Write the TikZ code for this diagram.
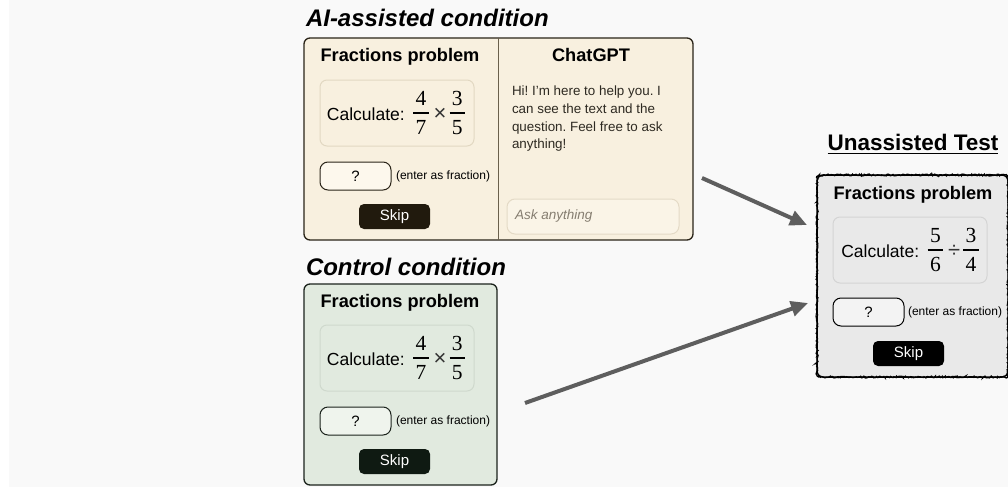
\documentclass[tikz,border=0pt]{standalone}
\usepackage{fontspec}
\setmainfont{Liberation Serif}
\setsansfont{Liberation Sans}
\newfontfamily\digfont{Liberation Serif}
\usetikzlibrary{arrows.meta,decorations.pathmorphing}
\definecolor{bg}{HTML}{F9F9F9}
\definecolor{aifill}{HTML}{F8F0DF}
\definecolor{aiborder}{HTML}{2A2418}
\definecolor{aidiv}{HTML}{6A604C}
\definecolor{aicalc}{HTML}{E2D8C2}
\definecolor{aiin}{HTML}{FDF8ED}
\definecolor{aiskip}{HTML}{211A0D}
\definecolor{askborder}{HTML}{E4DAC6}
\definecolor{askfill}{HTML}{FAF4E7}
\definecolor{asktext}{HTML}{857D70}
\definecolor{chattext}{HTML}{2E2A22}
\definecolor{cfill}{HTML}{E1EADF}
\definecolor{cborder}{HTML}{1B231C}
\definecolor{ccalc}{HTML}{CFD9CD}
\definecolor{cin}{HTML}{EFF4ED}
\definecolor{cskip}{HTML}{0F1A12}
\definecolor{tfill}{HTML}{E9E9E9}
\definecolor{tcalc}{HTML}{D4D4D4}
\definecolor{tin}{HTML}{F3F3F3}
\definecolor{arrowgray}{HTML}{5E5E5E}
\definecolor{optext}{HTML}{333333}
\newcommand\myfrac[2]{\raisebox{-14.45pt}{\vbox{\offinterlineskip\halign{\hfil##\hfil\cr
  \digfont\fontsize{21.5}{21.5}\selectfont #1\cr
  \noalign{\kern6.5pt}
  \vrule width 15.5pt height 1.7pt depth 0pt\cr
  \noalign{\kern6.5pt}
  \digfont\fontsize{21.5}{21.5}\selectfont\vrule width 0pt height 14.5pt depth 0pt#2\cr}}}}
\newcommand\mycalcline[5]{{\sffamily\fontsize{17.5}{20}\selectfont Calculate:}\hspace{8.5pt}\myfrac{#1}{#2}\hspace{5pt}{\sffamily\fontsize{22}{20}\selectfont\color{optext}#3}\hspace{3pt}\myfrac{#4}{#5}}
\begin{document}
\frenchspacing
\begin{tikzpicture}[x=1pt,y=-1pt,
  every node/.style={inner sep=0pt, outer sep=0pt, font=\sffamily},
  title/.style={font=\sffamily\bfseries\itshape\fontsize{24}{26}\selectfont, anchor=base west},
  head/.style={font=\sffamily\bfseries\fontsize{18.2}{20}\selectfont, anchor=base},
  panel/.style={line width=1.3pt, rounded corners=6pt, anchor=north west, minimum width=#1},
  calcbox/.style={line width=1pt, rounded corners=7pt, anchor=north west, minimum width=154pt, minimum height=66pt},
  inbox/.style={line width=1pt, rounded corners=8pt, anchor=north west, minimum width=71pt, minimum height=28pt, font=\sffamily\fontsize{15}{17}\selectfont},
  skipbtn/.style={rounded corners=5pt, anchor=north west, minimum width=71pt, minimum height=25pt, text=white, font=\sffamily\fontsize{15}{17}\selectfont},
  hint/.style={anchor=west, font=\sffamily\fontsize{12}{14}\selectfont},
  arrow/.style={draw=arrowgray, line width=4pt, -{Triangle[length=17pt,width=15pt]}},
  roughline/.style={line width=1.3pt, decorate, decoration={random steps, segment length=1.1pt, amplitude=0.9pt}}
]
\useasboundingbox (0,0) rectangle (1008,487);
\fill[bg] (9,0) rectangle (1008,487);

% ---------------- AI-assisted ----------------
\node[title] (tai) at (306,27) {AI-assisted condition};
\node[panel=389pt, draw=aiborder, fill=aifill, minimum height=202pt] (ai) at (304,38) {};
\draw[aidiv, line width=0.9pt] (ai.north) -- (ai.south);
\node[head] (aifp) at (400,62) {Fractions problem};
\node[head] (gpt) at (591,62) {ChatGPT};
\node[calcbox, draw=aicalc, fill=aifill] (aicb) at (320,80) {};
\node (aicalc) at ([xshift=-1pt]aicb.center) {\mycalcline{4}{7}{×}{3}{5}};
\node[inbox, draw=aiborder, fill=aiin] (aiin) at (320,162) {?};
\node[hint] (aihint) at ([xshift=5pt]aiin.east) {(enter as fraction)};
\node[skipbtn, fill=aiskip] (aiskip) at (359,204) {Skip};
\node[anchor=north west, align=left, text=chattext, font=\sffamily\fontsize{13.4}{17.7}\selectfont] (chat) at (512,86)
  {Hi! I'm here to help you. I\\can see the text and the\\question. Feel free to ask\\anything!};
\node[line width=1pt, rounded corners=8pt, anchor=north west, draw=askborder, fill=askfill, minimum width=172pt, minimum height=35pt] (ask) at (507,199) {};
\node[anchor=west, text=asktext, font=\sffamily\itshape\fontsize{13.5}{16}\selectfont] (asktxt) at ([xshift=8pt]ask.west) {Ask anything};

% ---------------- Control ----------------
\node[title] (tc) at (306,275) {Control condition};
\node[panel=193pt, draw=cborder, fill=cfill, minimum height=201pt] (ctrl) at (304,284) {};
\node[head] (cfp) at (400,307) {Fractions problem};
\node[calcbox, draw=ccalc, fill=cfill] (ccb) at (320,325) {};
\node (ccalc) at ([xshift=-1pt]ccb.center) {\mycalcline{4}{7}{×}{3}{5}};
\node[inbox, draw=cborder, fill=cin] (cin) at (320,407) {?};
\node[hint] (chint) at ([xshift=5pt]cin.east) {(enter as fraction)};
\node[skipbtn, fill=cskip] (cskip) at (359,449) {Skip};

% ---------------- Unassisted test ----------------
\node[font=\sffamily\bfseries\fontsize{22.5}{25}\selectfont, anchor=base] (ut) at (913,150) {Unassisted Test};
\draw[line width=1.5pt] ([yshift=-3.5pt]ut.base west) -- ([yshift=-3.5pt]ut.base east);
\pgfmathsetseed{7}
\node[anchor=north west, fill=tfill, draw=black, line width=1.5pt, rounded corners=6pt, minimum width=191pt, minimum height=202pt] (test) at (817,175) {};
\draw[roughline] ([xshift=6pt]test.north west) -- ([xshift=-6pt]test.north east)
  .. controls (test.north east) .. ([yshift=-6pt]test.north east)
  -- ([yshift=6pt]test.south east)
  .. controls (test.south east) .. ([xshift=-6pt]test.south east)
  -- ([xshift=6pt]test.south west)
  .. controls (test.south west) .. ([yshift=6pt]test.south west)
  -- ([yshift=-6pt]test.north west)
  .. controls (test.north west) .. cycle;
\node[head] (tfp) at (913,199) {Fractions problem};
\node[calcbox, draw=tcalc, fill=tfill] (tcb) at (833,217) {};
\node (tcalc) at (tcb.center) {\mycalcline{5}{6}{÷}{3}{4}};
\node[inbox, draw=black, fill=tin] (tin) at (833,298) {?};
\node[hint] (thint) at ([xshift=4pt]tin.east) {(enter as fraction)};
\node[skipbtn, fill=black] (tskip) at (873,341) {Skip};

% ---------------- arrows ----------------
\coordinate (a1s) at (702,178);
\coordinate (a1e) at (807,225);
\coordinate (a2s) at (525,403);
\coordinate (a2e) at (808,303);
\draw[arrow] (a1s) -- (a1e);
\draw[arrow] (a2s) -- (a2e);
\end{tikzpicture}
\end{document}
